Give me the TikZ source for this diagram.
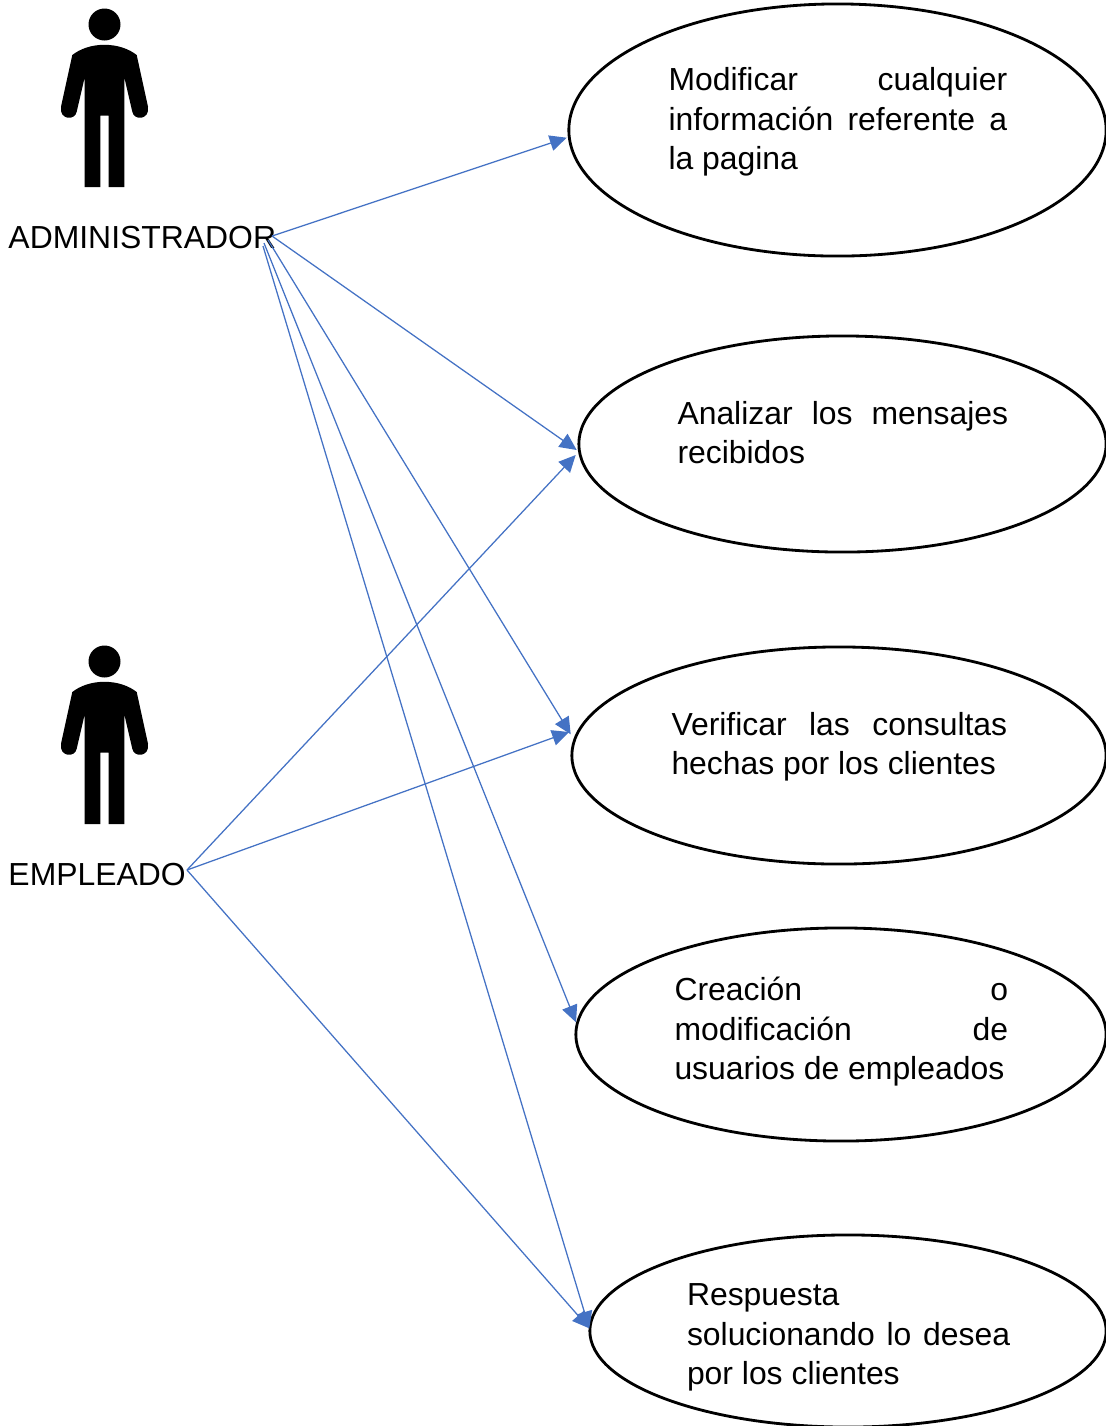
\documentclass[tikz,border=0pt]{standalone}
\usepackage{fontspec}
\setmainfont{Liberation Sans}
\usetikzlibrary{shapes.geometric,arrows.meta}
\newcommand{\jline}[2]{\makebox[#1][s]{#2}}
\tikzset{
  x=0.01cm,y=-0.01cm,
  usecase/.style={draw=black,line width=0.8pt,ellipse,inner sep=0pt,outer sep=0pt},
  body/.style={anchor=north west,inner sep=0pt,outer sep=0pt,align=left,font=\fontsize{9.07}{11.28}\selectfont},
  actorname/.style={anchor=base west,inner sep=0pt,outer sep=0pt,font=\fontsize{9.07}{11.28}\selectfont},
  link/.style={draw={rgb,255:red,68;green,114;blue,196},line width=0.36pt,
    -{Triangle[length=4.8pt,width=4.5pt,fill={rgb,255:red,68;green,114;blue,196}]}},
  actor/.pic={
    \fill[black] (104.5,24.5) circle[radius=16];
    \fill[black] (104.4,44.8) .. controls (118,44.8) and (129,49) .. (136.7,55)
      -- (148,106.7) .. controls (150,120) and (134,121) .. (132.3,111.7)
      -- (124.3,77.3) -- (124.3,187) -- (108.7,187) -- (108.7,115.7) -- (100.3,115.7)
      -- (100.3,187) -- (84.7,187) -- (84.7,77.3) -- (76.7,111.7)
      .. controls (75,121) and (59,120) .. (61,106.7)
      -- (72.3,55) .. controls (80,49) and (91,44.8) .. (104.4,44.8) -- cycle;
  }
}
\begin{document}
\begin{tikzpicture}
\useasboundingbox (0,0) rectangle (1106,1426);
\pic at (0,0) {actor};
\pic at (0,637) {actor};
\node[actorname] (admin) at (8.5,248) {ADMINISTRADOR};
\node[actorname] (emp) at (8.5,885) {EMPLEADO};
\node[usecase,minimum width=5.37cm,minimum height=2.52cm] (e1) at (837.5,130) {};
\node[usecase,minimum width=5.27cm,minimum height=2.16cm] (e2) at (842.5,444) {};
\node[usecase,minimum width=5.34cm,minimum height=2.17cm] (e3) at (839,755.5) {};
\node[usecase,minimum width=5.30cm,minimum height=2.13cm] (e4) at (841,1034.5) {};
\node[usecase,minimum width=5.16cm,minimum height=1.92cm] (e5) at (848,1331) {};
\node[body] (t1) at (668.5,67.5) {\jline{3.385cm}{Modificar cualquier}\\\jline{3.385cm}{información referente a}\\la pagina};
\node[body] (t2) at (677.5,401) {\jline{3.305cm}{Analizar los mensajes}\\recibidos};
\node[body] (t3) at (671.5,712) {\jline{3.355cm}{Verificar las consultas}\\hechas por los clientes};
\node[body] (t4) at (674.5,977) {\jline{3.335cm}{Creación o}\\\jline{3.335cm}{modificación de}\\usuarios de empleados};
\node[body] (t5) at (687,1283.5) {Respuesta\\\jline{3.23cm}{solucionando lo desea}\\por los clientes};
\coordinate (a1) at (272,236);
\coordinate (a2) at (272,236);
\coordinate (a3) at (268,240);
\coordinate (a4) at (264,243);
\coordinate (a5) at (263,246);
\coordinate (m) at (187,870);
\draw[link] (a1) -- ([shift={(-270.8,7.7)}]e1.center);
\draw[link] (a2) -- ([shift={(-265.8,6)}]e2.center);
\draw[link] (a3) -- ([shift={(-268.3,-21.2)}]e3.center);
\draw[link] (a4) -- ([shift={(-265,-12.2)}]e4.center);
\draw[link] (a5) -- ([shift={(-258.7,-2.7)}]e5.center);
\draw[link] (m) -- ([shift={(-266.8,11)}]e2.center);
\draw[link] (m) -- ([shift={(-270,-23.5)}]e3.center);
\draw[link] (m) -- ([shift={(-258.7,-2.7)}]e5.center);
\end{tikzpicture}
\end{document}
